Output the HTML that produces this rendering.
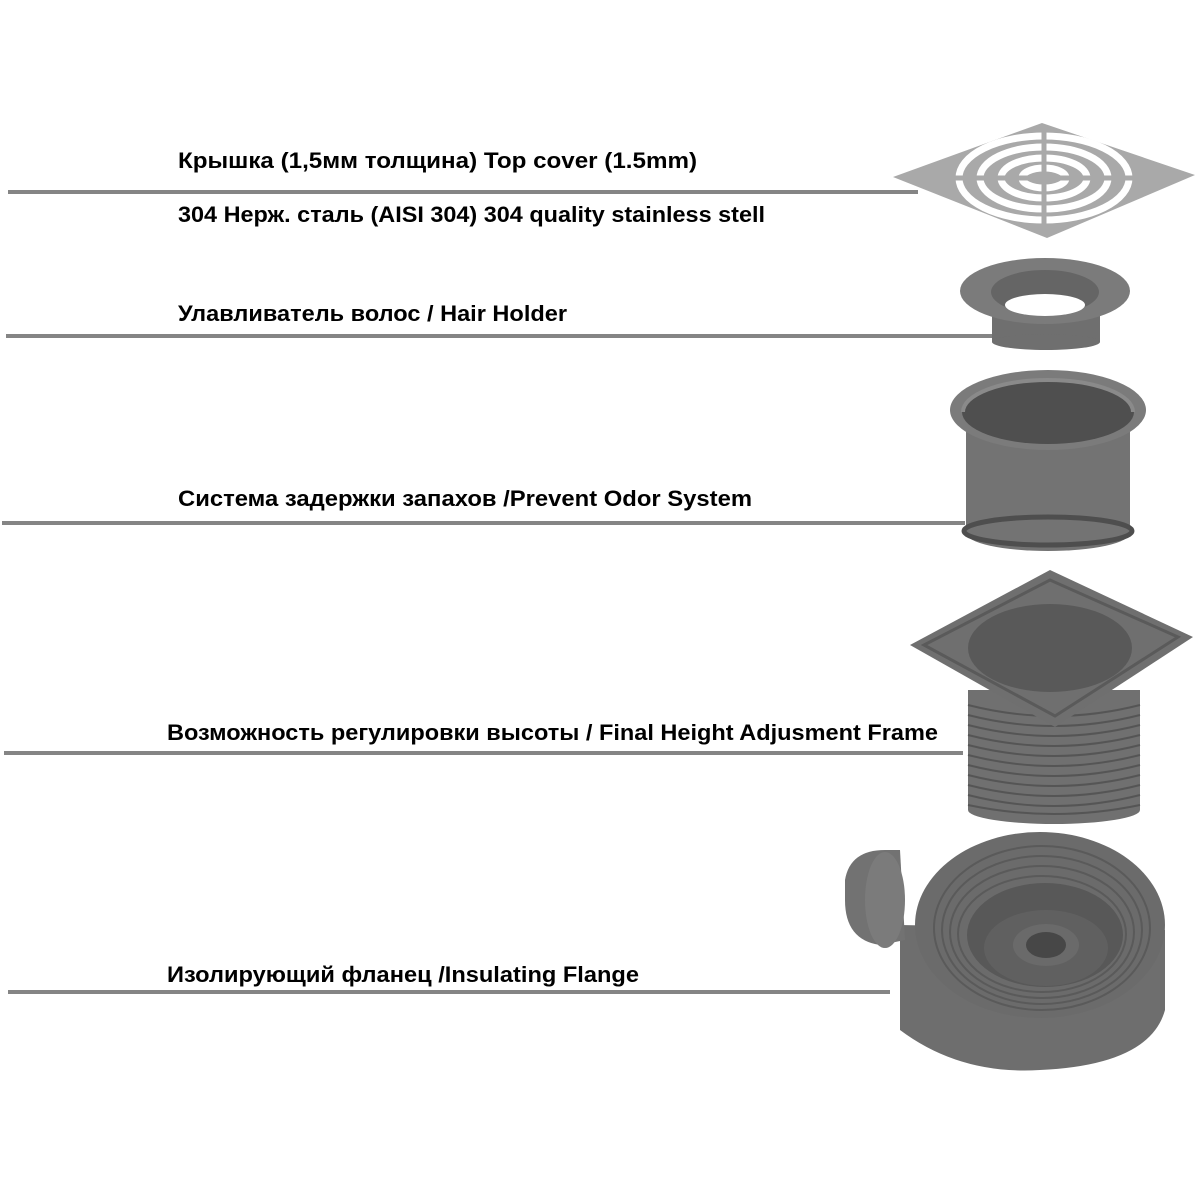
<!DOCTYPE html>
<html><head><meta charset="utf-8"><style>
html,body{margin:0;padding:0;background:#fff;}
svg{display:block;}
text{font-family:"Liberation Sans","DejaVu Sans",sans-serif;font-weight:bold;font-size:22px;fill:#000;}
</style></head><body>
<svg width="1195" height="1195" viewBox="0 0 1195 1195" xmlns="http://www.w3.org/2000/svg">
<rect width="1195" height="1195" fill="#fff"/>
<!-- lines -->
<g stroke="#858585" stroke-width="4">
<line x1="8" y1="192" x2="918" y2="192"/>
<line x1="6" y1="336" x2="992" y2="336"/>
<line x1="2" y1="523" x2="965" y2="523"/>
<line x1="4" y1="753" x2="963" y2="753"/>
<line x1="8" y1="992" x2="890" y2="992"/>
</g>
<!-- text -->
<text x="178" y="168" textLength="519" lengthAdjust="spacingAndGlyphs">Крышка (1,5мм толщина) Top cover (1.5mm)</text>
<text x="178" y="222" textLength="587" lengthAdjust="spacingAndGlyphs">304 Нерж. сталь (AISI 304) 304 quality stainless stell</text>
<text x="178" y="321" textLength="389" lengthAdjust="spacingAndGlyphs">Улавливатель волос / Hair Holder</text>
<text x="178" y="506" textLength="574" lengthAdjust="spacingAndGlyphs">Система задержки запахов /Prevent Odor System</text>
<text x="167" y="740" textLength="771" lengthAdjust="spacingAndGlyphs">Возможность регулировки высоты / Final Height Adjusment Frame</text>
<text x="167" y="982" textLength="472" lengthAdjust="spacingAndGlyphs">Изолирующий фланец /Insulating Flange</text>

<!-- top cover -->
<polygon points="893,177 1042,123 1195,175 1047,238" fill="#a9a9a9"/>
<g fill="none" stroke="#fff" stroke-width="7">
<ellipse cx="1044" cy="178" rx="85" ry="42"/>
<ellipse cx="1044" cy="178" rx="64" ry="31"/>
<ellipse cx="1044" cy="178" rx="43" ry="20"/>
<ellipse cx="1044" cy="178" rx="22" ry="10"/>
</g>
<g stroke="#a9a9a9" stroke-width="5">
<line x1="1044" y1="130" x2="1044" y2="226"/>
<line x1="955" y1="178" x2="1133" y2="178"/>
</g>

<!-- hair holder -->
<rect x="992" y="292" width="108" height="50" fill="#6f6f6f"/>
<ellipse cx="1046" cy="342" rx="54" ry="8" fill="#6f6f6f"/>
<ellipse cx="1045" cy="291" rx="85" ry="33" fill="#7b7b7b"/>
<ellipse cx="1045" cy="292" rx="54" ry="22" fill="#656565"/>
<ellipse cx="1045" cy="305" rx="40" ry="11" fill="#fff"/>

<!-- odor system -->
<rect x="966" y="415" width="164" height="118" fill="#737373"/>
<ellipse cx="1048" cy="533" rx="82" ry="18" fill="#737373"/>
<ellipse cx="1048" cy="531" rx="84" ry="14" fill="none" stroke="#4e4e4e" stroke-width="5"/>
<ellipse cx="1048" cy="410" rx="98" ry="40" fill="#7b7b7b"/>
<ellipse cx="1048" cy="412" rx="86" ry="32" fill="#4f4f4f"/>
<path d="M963,412 a85,32 0 0 1 170,0" fill="none" stroke="#8a8a8a" stroke-width="4"/>

<!-- height adjust frame -->
<rect x="968" y="690" width="172" height="120" fill="#707070"/>
<ellipse cx="1054" cy="810" rx="86" ry="14" fill="#707070"/>
<g fill="none" stroke="#555" stroke-width="2">
<path d="M968,705 q86,22 172,0"/><path d="M968,715 q86,22 172,0"/>
<path d="M968,725 q86,22 172,0"/><path d="M968,735 q86,22 172,0"/>
<path d="M968,745 q86,22 172,0"/><path d="M968,755 q86,22 172,0"/>
<path d="M968,765 q86,22 172,0"/><path d="M968,775 q86,22 172,0"/>
<path d="M968,785 q86,22 172,0"/><path d="M968,795 q86,22 172,0"/>
<path d="M968,805 q86,18 172,0"/>
</g>
<polygon points="910,645 1050,570 1193,637 1055,727" fill="#6f6f6f"/>
<polygon points="924,645 1050,580 1178,637 1055,716" fill="none" stroke="#5a5a5a" stroke-width="3"/>
<ellipse cx="1050" cy="648" rx="82" ry="44" fill="#595959"/>

<!-- insulating flange -->
<path d="M900,925 L900,1030 Q960,1075 1040,1070 Q1150,1065 1165,1010 L1165,930 Z" fill="#6e6e6e"/>
<path d="M845,880 Q850,850 885,850 L900,850 L905,940 L880,945 Q845,940 845,900 Z" fill="#727272"/>
<ellipse cx="885" cy="900" rx="20" ry="48" fill="#7b7b7b"/>
<ellipse cx="1040" cy="925" rx="125" ry="93" fill="#6b6b6b"/>
<g fill="none" stroke="#5a5a5a" stroke-width="2">
<ellipse cx="1042" cy="928" rx="108" ry="82"/>
<ellipse cx="1042" cy="930" rx="100" ry="74"/>
<ellipse cx="1042" cy="932" rx="92" ry="66"/>
<ellipse cx="1042" cy="934" rx="84" ry="58"/>
</g>
<ellipse cx="1045" cy="935" rx="78" ry="52" fill="#585858"/>
<ellipse cx="1046" cy="948" rx="62" ry="38" fill="#606060"/>
<ellipse cx="1046" cy="945" rx="33" ry="21" fill="#6a6a6a"/>
<ellipse cx="1046" cy="945" rx="20" ry="13" fill="#474747"/>
</svg>
</body></html>
